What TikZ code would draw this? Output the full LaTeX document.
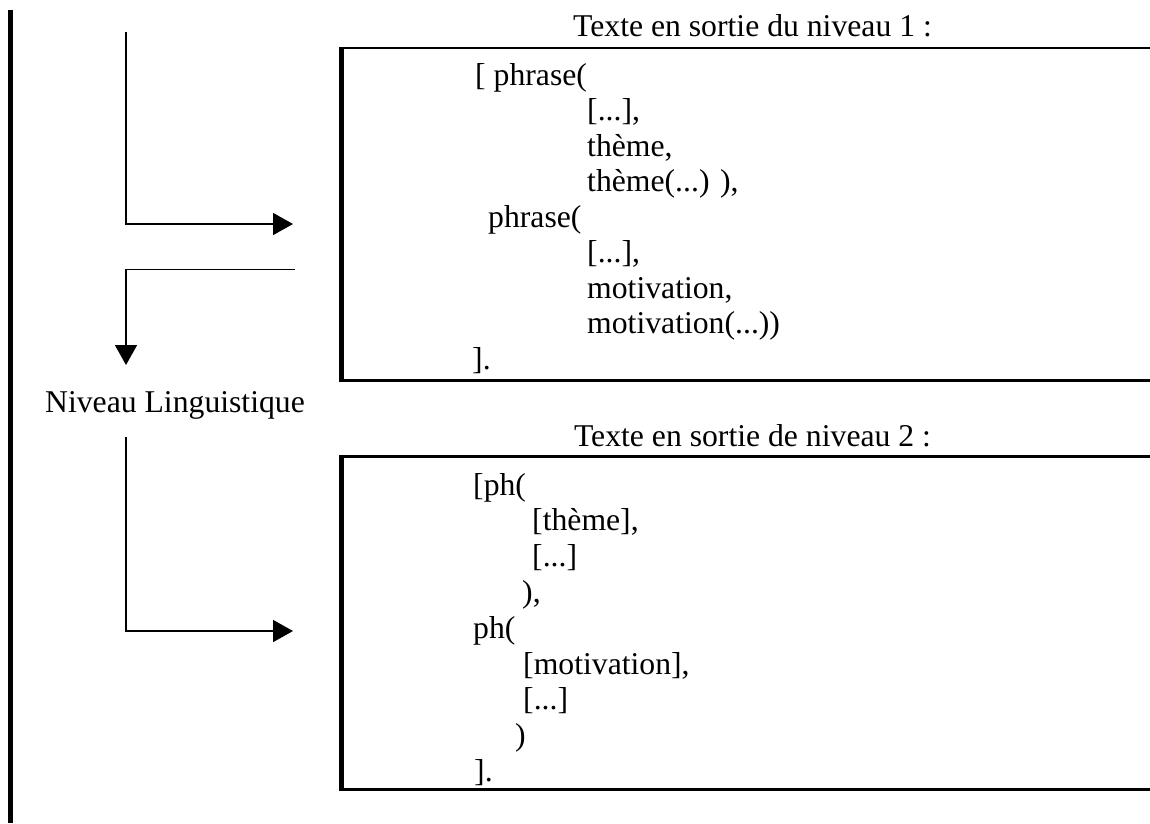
\documentclass[tikz,border=0pt]{standalone}
\usepackage{fontspec}
\setmainfont{Liberation Serif}
\usetikzlibrary{arrows.meta}
\begin{document}
\begin{tikzpicture}[x=1pt,y=-1pt,
  txt/.style={font=\fontsize{31.7}{35.6}\selectfont, inner sep=0pt, anchor=base west},
  ttl/.style={font=\fontsize{31.7}{35.6}\selectfont, inner sep=0pt, anchor=base},
  conn/.style={line width=1.6pt},
  arr/.style={conn,-{Triangle[length=20pt,width=22pt]}},
  edge/.style={line width=2.7pt},
  thickedge/.style={line width=4.6pt}]
\useasboundingbox (0,0) rectangle (1150,823);

% left page rule
\coordinate (pt) at (10.5,10);
\coordinate (pb) at (10.5,823);
\draw[thickedge] (pt) -- (pb);

% box 1 frame
\coordinate (b1tl) at (341.7,48);
\coordinate (b1tr) at (1160,48);
\coordinate (b1bl) at (341.7,380.5);
\coordinate (b1br) at (1160,380.5);
\draw[edge] (b1tl) -- (b1tr);
\draw[edge] (b1bl) -- (b1br);
\draw[thickedge] ([yshift=1.4pt]b1tl) -- ([yshift=-1.4pt]b1bl);

% box 2 frame
\coordinate (b2tl) at (341.7,456.5);
\coordinate (b2tr) at (1160,456.5);
\coordinate (b2bl) at (341.7,789.5);
\coordinate (b2br) at (1160,789.5);
\draw[edge] (b2tl) -- (b2tr);
\draw[edge] (b2bl) -- (b2br);
\draw[thickedge] ([yshift=1.4pt]b2tl) -- ([yshift=-1.4pt]b2bl);

% titles
\node[ttl] (t1) at (752.5,36) {Texte en sortie du niveau 1 :};
\node[ttl] (t2) at (752.5,446) {Texte en sortie de niveau 2 :};
\node[ttl] (nl) at (175,412) {Niveau Linguistique};

% box 1 text
\node[txt] (a1) at (475,85) {[ phrase(};
\node[txt] (a2) at (587,120.5) {[...],};
\node[txt] (a3) at (587,156) {thème,};
\node[txt] (a4) at (587,191.5) {thème(...) ),};
\node[txt] (a5) at (488,227) {phrase(};
\node[txt] (a6) at (587,262.5) {[...],};
\node[txt] (a7) at (587,298) {motivation,};
\node[txt] (a8) at (587,333.5) {motivation(...))};
\node[txt] (a9) at (472,369) {].};

% box 2 text
\node[txt] (c1) at (473,495) {[ph(};
\node[txt] (c2) at (532,530.8) {[thème],};
\node[txt] (c3) at (532,566.6) {[...]};
\node[txt] (c4) at (522,602.4) {),};
\node[txt] (c5) at (473,638.2) {ph(};
\node[txt] (c6) at (523,674) {[motivation],};
\node[txt] (c7) at (523,709.8) {[...]};
\node[txt] (c8) at (515,745.6) {)};
\node[txt] (c9) at (474,781.4) {].};

% connectors
\coordinate (k1s) at (126,31.7);
\coordinate (k1k) at (126,224);
\coordinate (k1e) at (293,224);
\draw[arr] (k1s) -- (k1k) -- (k1e);

\coordinate (k2s) at (295,269.5);
\coordinate (k2k) at (126,269.5);
\coordinate (k2e) at (126,365);
\draw[arr] (k2s) -- (k2k) -- (k2e);

\coordinate (k3s) at (126,437);
\coordinate (k3k) at (126,631);
\coordinate (k3e) at (293,631);
\draw[arr] (k3s) -- (k3k) -- (k3e);
\end{tikzpicture}
\end{document}
